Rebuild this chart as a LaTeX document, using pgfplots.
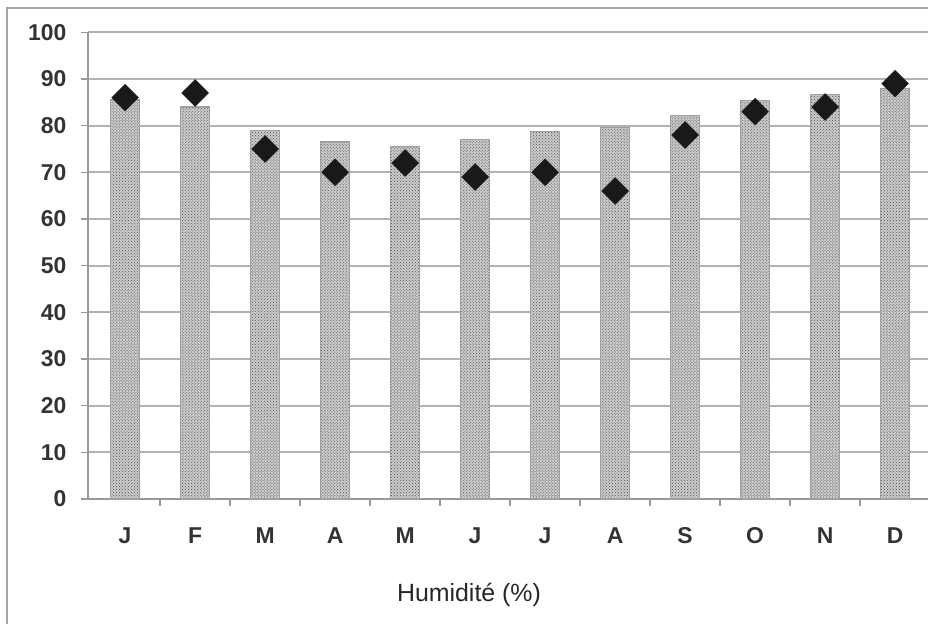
\documentclass[border=0pt]{standalone}
\usepackage{pgfplots}
\pgfplotsset{compat=1.18}
\usetikzlibrary{patterns}
\usepackage{fontspec}
\setmainfont{Liberation Sans}
\begin{document}
\begin{tikzpicture}[x=1bp,y=1bp]
\path[use as bounding box] (0,0) rectangle (928,624);
\draw[gray!70, line width=1.5bp] (7,0) -- (7,616) -- (928,616);
\begin{axis}[
  at={(88bp,125bp)}, anchor=south west,
  scale only axis, width=840bp, height=466.7bp,
  xmin=-0.53, xmax=11.47, ymin=0, ymax=100,
  axis lines*=left,
  axis line style={gray!80, line width=1.8bp},
  ytick={0,10,...,100},
  ymajorgrids,
  major grid style={gray!60, line width=2.2bp},
  xtick={0,...,11},
  xticklabels={J,F,M,A,M,J,J,A,S,O,N,D},
  minor xtick={0.5,1.5,...,10.5},
  major x tick style={draw=none},
  tick style={gray!80, line width=1.5bp},
  tick align=outside,
  major tick length=7bp, minor tick length=7bp,
  /pgf/number format/assume math mode=true,
  ticklabel style={font=\fontsize{23}{26}\selectfont\bfseries, text=black!80},
  xticklabel style={yshift=-18bp, text height=16bp, text depth=0bp},
  yticklabel style={xshift=-11bp},
  clip=false,
]
\addplot[ybar, bar width=29bp, fill=gray!40, draw=gray!75, line width=1.2bp,
  postaction={pattern=crosshatch dots, pattern color=black!70}]
  coordinates {(0,85.5) (1,84) (2,79) (3,76.5) (4,75.5) (5,77) (6,78.7) (7,79.6) (8,82.1) (9,85.4) (10,86.7) (11,88)};
\addplot[only marks, mark=square*, mark size=9.5bp, mark options={rotate=45, fill=black!90, draw=black!90}]
  coordinates {(0,86) (1,87) (2,75) (3,70) (4,72) (5,69) (6,70) (7,66) (8,78) (9,83) (10,84) (11,89)};
\end{axis}
\node[font=\fontsize{25}{28}\selectfont, text=black!85] at (469,29) {Humidité (\%)};
\end{tikzpicture}
\end{document}
